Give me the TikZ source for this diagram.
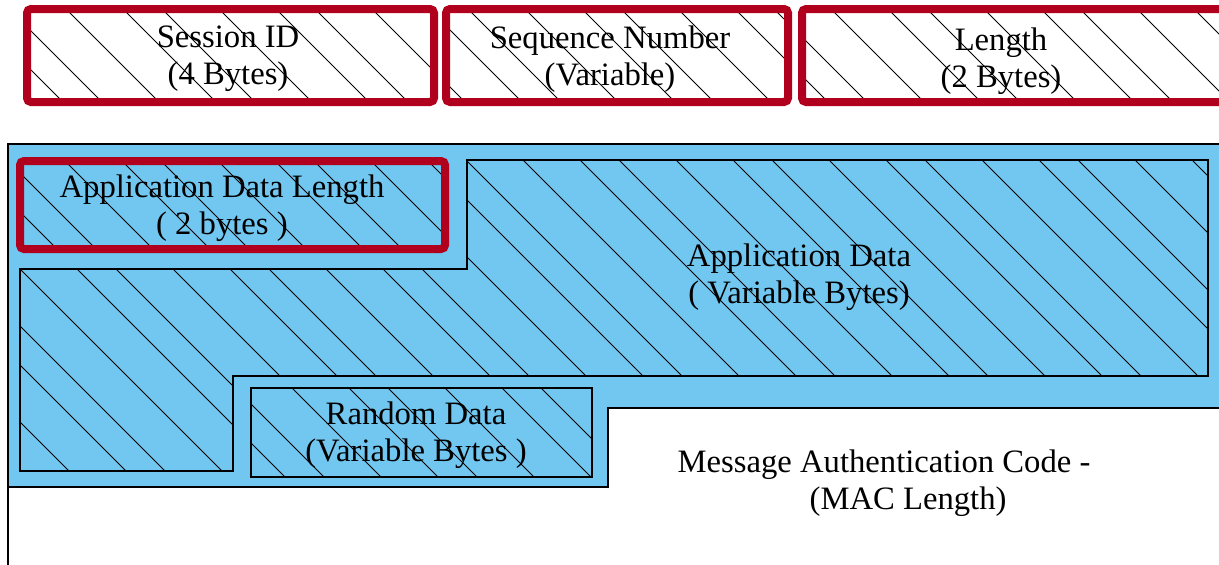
\documentclass[tikz,border=0pt]{standalone}
\usepackage{fontspec}
\setmainfont{Liberation Serif}
\definecolor{fieldred}{RGB}{176,0,30}
\definecolor{fieldblue}{RGB}{113,199,240}
\tikzset{
  hatchline/.style={draw=black,line width=0.6pt},
  redfield/.style={draw=fieldred,line width=6pt,rounded corners=3},
  blackfield/.style={draw=black,line width=1.6pt},
  framestroke/.style={draw=black,line width=2pt},
  lbl/.style={inner sep=0pt,align=center,font=\fontsize{24.5}{27.75}\selectfont}
}
\newcommand{\hatchlines}{%
  \foreach \k in {-5,...,10}{\foreach \o in {0,57,114}{%
    \draw[hatchline] ({\k*153+\o},0) -- ++(620,620);}}}
\begin{document}
\begin{tikzpicture}[x=0.75pt,y=-0.75pt]
\useasboundingbox (0,0) rectangle (1219,564);
% top fields
\foreach \xa/\xb in {27/434,446/788,802/1250}{
  \fill[white] (\xa,9) rectangle (\xb,102);
  \begin{scope}\clip (\xa,9) rectangle (\xb,102); \hatchlines \end{scope}
  \draw[redfield] (\xa,9) rectangle (\xb,102);
}
% blue body
\fill[fieldblue] (8,144) -- (1240,144) -- (1240,408) -- (608,408) -- (608,487) -- (8,487) -- cycle;
% application data region
\begin{scope}
  \clip (467,160) -- (1208,160) -- (1208,376) -- (233,376) -- (233,471) -- (20,471) -- (20,269) -- (467,269) -- cycle;
  \hatchlines
\end{scope}
\draw[blackfield] (467,160) -- (1208,160) -- (1208,376) -- (233,376) -- (233,471) -- (20,471) -- (20,269) -- (467,269) -- cycle;
% application data length
\begin{scope}\clip (20,161) rectangle (445,249); \hatchlines \end{scope}
\draw[redfield] (20,161) rectangle (445,249);
% random data
\begin{scope}\clip (251,388) rectangle (592,477); \hatchlines \end{scope}
\draw[blackfield] (251,388) rectangle (592,477);
% frame
\draw[framestroke] (1240,144) -- (8,144) -- (8,570);
\draw[framestroke] (8,487) -- (608,487) -- (608,408) -- (1240,408);
% labels
\node[lbl] (sid) at (228,59) {Session ID\\(4 Bytes)};
\node[lbl] (seq) at (610,59) {Sequence Number\\(Variable)};
\node[lbl] (len) at (1001,61) {Length\\(2 Bytes)};
\node[lbl] (adl) at (222,208) {Application Data Length\\( 2 bytes )};
\node[lbl] (appd) at (799,277) {Application Data\\( Variable Bytes)};
\node[lbl] (rnd) at (416,435) {Random Data\\(Variable Bytes )};
\node[lbl,align=left] (mac) at (884,483) {Message Authentication Code -\\\hspace*{99pt}(MAC Length)};
\end{tikzpicture}
\end{document}
